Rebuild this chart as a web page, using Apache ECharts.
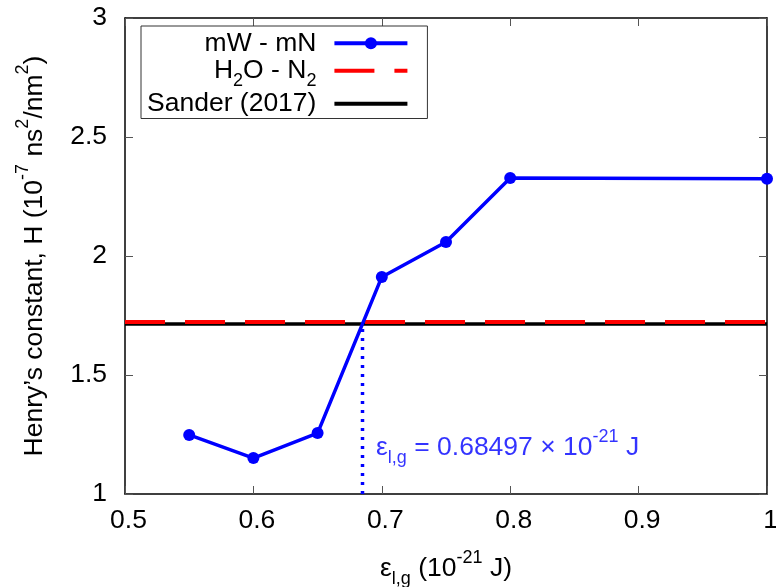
<!DOCTYPE html>
<html>
<head>
<meta charset="utf-8">
<script src="https://cdn.jsdelivr.net/npm/echarts@6/dist/echarts.min.js"></script>
<style>html,body{margin:0;padding:0;background:#fff}#c{width:776px;height:587px}</style>
</head>
<body>
<div id="c"></div>
<script>
// ---- data ----
const epsValues = [0.55, 0.6, 0.65, 0.7, 0.75, 0.8, 1.0];
const mWmN = [1.248, 1.151, 1.256, 1.912, 2.059, 2.328, 2.325];
const h2oN2Value = 1.723;
const sanderValue = 1.714;
const epsCross = 0.68497;
const xRange = [0.5, 1.0];
const yRange = [1, 3];
const seriesNames = ['mW - mN', 'H2O - N2', 'Sander (2017)'];

const FONT = 'Liberation Sans, Arial, Helvetica, sans-serif';
const FS = 26.5;
function rich(color) {
  return {
    n: {fontSize: FS, fontFamily: FONT, color: color, verticalAlign: 'middle'},
    sup: {fontSize: 18, fontFamily: FONT, color: color, verticalAlign: 'middle', padding: [0, 0, 22, 0]},
    sub: {fontSize: 18, fontFamily: FONT, color: color, verticalAlign: 'middle', padding: [20, 0, 0, 0]}
  };
}
const legendLabels = {
  'mW - mN': '{n|mW - mN}',
  'H2O - N2': '{n|H}{sub|2}{n|O - N}{sub|2}',
  'Sander (2017)': '{n|Sander (2017)}'
};

const chart = echarts.init(document.getElementById('c'), null, {renderer: 'canvas'});
const axisLineStyle = {color: '#000', width: 1.5};
const tickStyle = {color: '#555', width: 1};

const option = {
  animation: false,
  backgroundColor: '#fff',
  textStyle: {fontFamily: FONT},
  grid: {left: 125, right: 9, top: 18, bottom: 93, containLabel: false, outerBoundsMode: 'none'},
  legend: {
    data: [
      {name: seriesNames[0], lineStyle: {width: 4}},
      {name: seriesNames[1], lineStyle: {width: 4}, itemStyle: {opacity: 0}},
      {name: seriesNames[2], lineStyle: {width: 4}, itemStyle: {opacity: 0}}
    ],
    orient: 'vertical',
    left: 141, top: 26,
    align: 'right',
    itemWidth: 73, itemHeight: 15, itemGap: 0.5,
    padding: [3.75, 18, 1.25, 6],
    borderColor: '#333', borderWidth: 1,
    formatter: name => legendLabels[name],
    textStyle: {fontSize: FS, color: '#000', fontFamily: FONT, padding: [0, 13, 0, 0], rich: rich('#000')}
  },
  xAxis: [{
    type: 'value', min: xRange[0], max: xRange[1], interval: 0.1,
    position: 'bottom',
    name: '{n|ε}{sub|l,g}{n| (10}{sup|-21}{n| J)}',
    nameLocation: 'middle', nameGap: 55,
    nameTextStyle: {rich: rich('#000')},
    axisLine: {show: true, lineStyle: axisLineStyle},
    axisTick: {show: true, inside: true, length: 8, lineStyle: tickStyle},
    axisLabel: {fontSize: FS, color: '#000', fontFamily: FONT, margin: 13, padding: [0, 0, 0, 7]},
    splitLine: {show: false}
  }, {
    type: 'value', min: xRange[0], max: xRange[1], interval: 0.1,
    position: 'top',
    axisLine: {show: true, lineStyle: axisLineStyle},
    axisTick: {show: true, inside: true, length: 8, lineStyle: tickStyle},
    axisLabel: {show: false},
    splitLine: {show: false}
  }],
  yAxis: [{
    type: 'value', min: yRange[0], max: yRange[1], interval: 0.5,
    position: 'left',
    name: '{n|Henry’s constant, H (10}{sup|-7}{n| ns}{sup|2}{n|/nm}{sup|2}{n|)}',
    nameLocation: 'middle', nameGap: 70.5,
    nameTextStyle: {rich: rich('#000')},
    axisLine: {show: true, lineStyle: axisLineStyle},
    axisTick: {show: true, inside: true, length: 8, lineStyle: tickStyle},
    axisLabel: {fontSize: FS, color: '#000', fontFamily: FONT, margin: 18},
    splitLine: {show: false}
  }, {
    type: 'value', min: yRange[0], max: yRange[1], interval: 0.5,
    position: 'right',
    axisLine: {show: true, lineStyle: axisLineStyle},
    axisTick: {show: true, inside: true, length: 8, lineStyle: tickStyle},
    axisLabel: {show: false},
    splitLine: {show: false}
  }],
  series: [
    {
      name: 'Sander (2017)', type: 'line', symbol: 'none',
      data: [[xRange[0], sanderValue], [xRange[1], sanderValue]],
      lineStyle: {color: '#000', width: 3.5},
      itemStyle: {color: '#000'}
    },
    {
      name: 'H2O - N2', type: 'line', symbol: 'none',
      data: [[xRange[0], h2oN2Value], [xRange[1], h2oN2Value]],
      lineStyle: {color: '#ff0000', width: 4, type: [40, 20]},
      itemStyle: {color: '#ff0000'}
    },
    {
      name: 'eps-cross', type: 'line', symbol: 'none', silent: true,
      data: [[epsCross, yRange[0]], [epsCross, sanderValue]],
      lineStyle: {color: '#0000ff', width: 3.5, type: [3, 6]},
      z: 3
    },
    {
      name: 'mW - mN', type: 'line', symbol: 'circle', symbolSize: 12,
      data: epsValues.map((x, i) => [x, mWmN[i]]),
      lineStyle: {color: '#0000ff', width: 3.5},
      itemStyle: {color: '#0000ff'},
      z: 4
    },
    {
      name: 'annotation', type: 'scatter', symbolSize: 0, silent: true,
      data: [[0.6955, 1.195]],
      label: {
        show: true, position: 'right', distance: 0,
        formatter: '{n|ε}{sub|l,g}{n| = 0.68497 × 10}{sup|-21}{n| J}',
        rich: rich('#0000ff')
      }
    }
  ]
};
chart.setOption(option);
</script>
</body>
</html>
